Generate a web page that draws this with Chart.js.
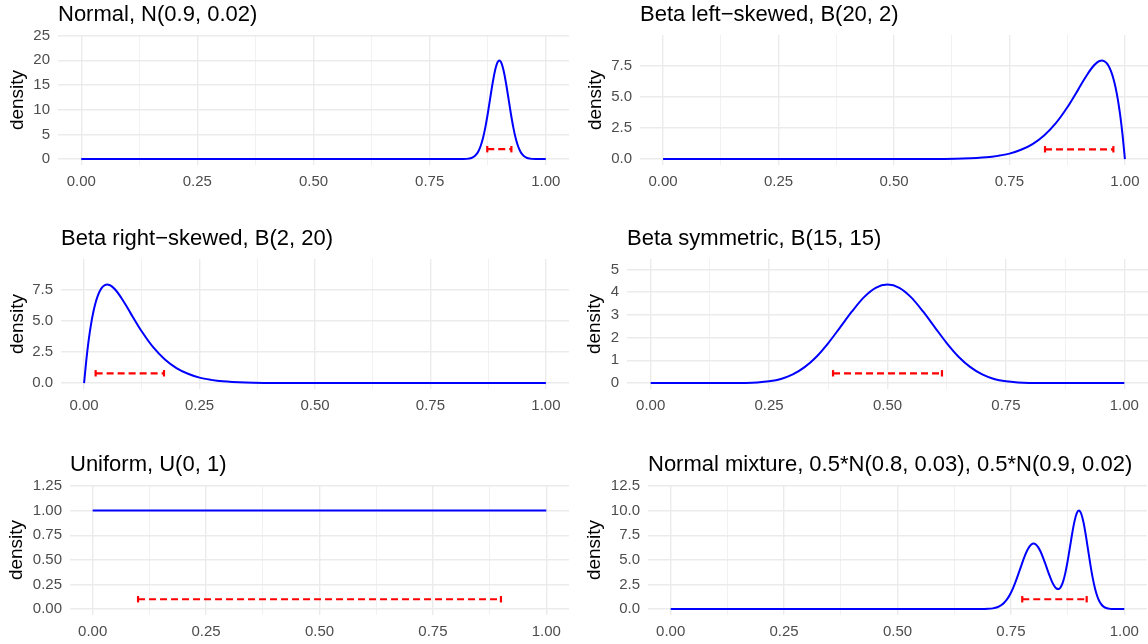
<!DOCTYPE html>
<html>
<head>
<meta charset="utf-8">
<script src="https://cdn.jsdelivr.net/npm/chart.js@4.4.1/dist/chart.umd.min.js"></script>
<style>
  html, body { margin: 0; padding: 0; background: #fff; }
  #page { position: relative; width: 1148px; height: 644px; overflow: hidden; }
  #page canvas { position: absolute; }
</style>
</head>
<body>
<div id="page">
  <canvas id="p1"></canvas>
  <canvas id="p2"></canvas>
  <canvas id="p3"></canvas>
  <canvas id="p4"></canvas>
  <canvas id="p5"></canvas>
  <canvas id="p6"></canvas>
</div>
<script>
// Panel titles
const titles = [
  'Normal, N(0.9, 0.02)',
  'Beta left\u2212skewed, B(20, 2)',
  'Beta right\u2212skewed, B(2, 20)',
  'Beta symmetric, B(15, 15)',
  'Uniform, U(0, 1)',
  'Normal mixture, 0.5*N(0.8, 0.03), 0.5*N(0.9, 0.02)'
];

// Density curves
const normalX = [0, 0.80, 0.82, 0.83, 0.84, 0.845, 0.85, 0.855, 0.86, 0.865, 0.87, 0.875, 0.88, 0.885, 0.89, 0.895, 0.90,
  0.905, 0.91, 0.915, 0.92, 0.925, 0.93, 0.935, 0.94, 0.945, 0.95, 0.955, 0.96, 0.97, 0.98, 1.00];
const normalY = [0, 0, 0.01, 0.04, 0.22, 0.46, 0.88, 1.59, 2.70, 4.31, 6.48, 9.13, 12.10, 15.06, 17.60, 19.33, 19.95,
  19.33, 17.60, 15.06, 12.10, 9.13, 6.48, 4.31, 2.70, 1.59, 0.88, 0.46, 0.22, 0.04, 0.01, 0];

const betaLeftX = [0, 0.50, 0.55, 0.60, 0.65, 0.70, 0.725, 0.75, 0.775, 0.80, 0.825, 0.85, 0.875, 0.90, 0.91, 0.92, 0.93,
  0.94, 0.945, 0.95, 0.955, 0.96, 0.965, 0.97, 0.975, 0.98, 0.985, 0.99, 0.995, 1.00];
const betaLeftY = [0, 0.0004, 0.002, 0.01, 0.04, 0.14, 0.26, 0.44, 0.75, 1.21, 1.90, 2.87, 4.15, 5.67, 6.30, 6.89, 7.41,
  7.78, 7.89, 7.93, 7.88, 7.74, 7.47, 7.06, 6.49, 5.72, 4.73, 3.47, 1.91, 0];

const betaRightX = [0, 0.005, 0.01, 0.015, 0.02, 0.025, 0.03, 0.035, 0.04, 0.045, 0.05, 0.055, 0.06, 0.07, 0.08, 0.09,
  0.10, 0.125, 0.15, 0.175, 0.20, 0.225, 0.25, 0.275, 0.30, 0.35, 0.40, 0.45, 0.50, 1.00];
const betaRightY = [0, 1.91, 3.47, 4.73, 5.72, 6.49, 7.06, 7.47, 7.74, 7.88, 7.93, 7.89, 7.78, 7.41, 6.89, 6.30,
  5.67, 4.15, 2.87, 1.90, 1.21, 0.75, 0.44, 0.26, 0.14, 0.04, 0.01, 0.002, 0.0004, 0];

const betaSymX = [0, 0.10, 0.15, 0.20, 0.225, 0.25, 0.275, 0.30, 0.325, 0.35, 0.375, 0.40, 0.425, 0.45, 0.475, 0.50,
  0.525, 0.55, 0.575, 0.60, 0.625, 0.65, 0.675, 0.70, 0.725, 0.75, 0.775, 0.80, 0.85, 0.90, 1.00];
const betaSymY = [0, 0, 0.0004, 0.008, 0.028, 0.077, 0.18, 0.38, 0.70, 1.16, 1.76, 2.45, 3.15, 3.77, 4.19, 4.33,
  4.19, 3.77, 3.15, 2.45, 1.76, 1.16, 0.70, 0.38, 0.18, 0.077, 0.028, 0.008, 0.0004, 0, 0];

const uniformX = [0, 1];
const uniformY = [1, 1];

const mixtureX = [0, 0.65, 0.68, 0.70, 0.71, 0.72, 0.73, 0.735, 0.74, 0.745, 0.75, 0.755, 0.76, 0.765, 0.77, 0.775,
  0.78, 0.785, 0.79, 0.795, 0.80, 0.805, 0.81, 0.815, 0.82, 0.825, 0.83, 0.835, 0.84, 0.845, 0.85, 0.855, 0.86, 0.865,
  0.87, 0.875, 0.88, 0.885, 0.89, 0.895, 0.90, 0.905, 0.91, 0.915, 0.92, 0.925, 0.93, 0.935, 0.94, 0.945, 0.95, 0.955,
  0.96, 0.97, 0.98, 1.00];
const mixtureY = [0, 0, 0.002, 0.026, 0.074, 0.19, 0.44, 0.64, 0.90, 1.24, 1.66, 2.16, 2.73, 3.37, 4.03, 4.70,
  5.32, 5.87, 6.29, 6.56, 6.65, 6.56, 6.29, 5.87, 5.33, 4.71, 4.06, 3.42, 2.84, 2.39, 2.10, 2.03, 2.25, 2.79,
  3.68, 4.86, 6.24, 7.65, 8.88, 9.71, 10.00, 9.68, 8.81, 7.53, 6.05, 4.57, 3.24, 2.16, 1.35, 0.79, 0.44, 0.23,
  0.11, 0.02, 0, 0];

// 80% intervals (red dashed bars) and the height they sit at
const intervalLow = [0.874, 0.827, 0.025, 0.385, 0.10, 0.775];
const intervalHigh = [0.926, 0.975, 0.173, 0.615, 0.90, 0.917];
const intervalHeight = [2.0, 0.79, 0.79, 0.43, 0.10, 1.0];

// Axis ticks
const xTicks = [0, 0.25, 0.5, 0.75, 1];
const xTickLabels = ['0.00', '0.25', '0.50', '0.75', '1.00'];
const yTicksA = [0, 5, 10, 15, 20, 25];
const yLabelsA = ['0', '5', '10', '15', '20', '25'];
const yTicksB = [0, 2.5, 5, 7.5];
const yLabelsB = ['0.0', '2.5', '5.0', '7.5'];
const yTicksC = [0, 1, 2, 3, 4, 5];
const yLabelsC = ['0', '1', '2', '3', '4', '5'];
const yTicksD = [0, 0.25, 0.5, 0.75, 1, 1.25];
const yLabelsD = ['0.00', '0.25', '0.50', '0.75', '1.00', '1.25'];
const yTicksE = [0, 2.5, 5, 7.5, 10, 12.5];
const yLabelsE = ['0.0', '2.5', '5.0', '7.5', '10.0', '12.5'];

// y range of each panel (ggplot expanded limits)
const yLimits = [[-1.2, 25.13], [-0.475, 9.985], [-0.475, 9.985], [-0.26, 5.456], [-0.06, 1.26], [-0.6, 12.6]];

const FONT = "'Liberation Sans', Arial, Helvetica, sans-serif";

// canvas placement of each panel: left, top, width, y-axis width
const layoutBoxes = [
  [6, 0, 563, 52], [584, 0, 564, 56],
  [6, 224, 563, 55], [583, 224, 565, 44],
  [5, 450, 564, 65], [583, 450, 564, 65]
];
const CANVAS_H = 195;

// majors plus the half-way minor lines that fall inside the range
function withMinor(majors, lo, hi) {
  const step = majors[1] - majors[0];
  const out = majors.slice();
  majors.forEach(v => {
    [v - step / 2, v + step / 2].forEach(m => {
      if (m >= lo && m <= hi && !out.some(o => Math.abs(o - m) < 1e-9)) out.push(m);
    });
  });
  return out.sort((a, b) => a - b);
}

function lookup(ticks, labels, v) {
  const k = ticks.findIndex(t => Math.abs(t - v) < 1e-9);
  return k >= 0 ? labels[k] : '';
}

function isMajor(ticks, v) {
  return ticks.some(t => Math.abs(t - v) < 1e-9);
}

function makePanel(i, curveX, curveY, yTicks, yLabels) {
  const [left, top, width, yW] = layoutBoxes[i];
  const canvas = document.getElementById('p' + (i + 1));
  canvas.width = width;
  canvas.height = CANVAS_H;
  canvas.style.left = left + 'px';
  canvas.style.top = top + 'px';

  const curve = curveX.map((x, k) => ({ x: x, y: curveY[k] }));
  const interval = [
    { x: intervalLow[i], y: intervalHeight[i] },
    { x: intervalHigh[i], y: intervalHeight[i] }
  ];
  const [yMin, yMax] = yLimits[i];

  new Chart(canvas, {
    type: 'line',
    data: {
      datasets: [
        {
          data: curve,
          borderColor: '#0000FF',
          borderWidth: 2,
          pointRadius: 0,
          cubicInterpolationMode: 'monotone',
          fill: false
        },
        {
          data: interval,
          borderColor: '#FF0000',
          borderWidth: 2.2,
          borderDash: [7, 4],
          pointStyle: 'line',
          pointRotation: 90,
          pointRadius: 3.2,
          pointHoverRadius: 3.2,
          pointBorderColor: '#FF0000',
          pointBorderWidth: 2.2,
          fill: false
        }
      ]
    },
    options: {
      responsive: false,
      animation: false,
      events: [],
      layout: { padding: 0, autoPadding: false },
      plugins: {
        legend: { display: false },
        tooltip: { enabled: false },
        title: {
          display: true,
          text: titles[i],
          align: 'start',
          fullSize: false,
          color: '#000000',
          font: { family: FONT, size: 22, weight: 'normal' },
          padding: { top: 1.5, bottom: 7.1 }
        }
      },
      scales: {
        x: {
          type: 'linear',
          min: -0.05,
          max: 1.05,
          afterBuildTicks: s => { s.ticks = withMinor(xTicks, -0.05, 1.05).map(v => ({ value: v })); },
          afterFit: s => { s.height = 30; s.paddingLeft = 0; s.paddingRight = 0; },
          ticks: {
            autoSkip: false,
            maxRotation: 0,
            padding: 8,
            color: '#4D4D4D',
            font: { family: FONT, size: 15 },
            callback: v => lookup(xTicks, xTickLabels, v)
          },
          grid: {
            color: '#EBEBEB',
            drawTicks: false,
            lineWidth: ctx => (ctx.tick && isMajor(xTicks, ctx.tick.value)) ? 1.4 : 0.7
          },
          border: { display: false }
        },
        y: {
          type: 'linear',
          min: yMin,
          max: yMax,
          afterBuildTicks: s => { s.ticks = withMinor(yTicks, yMin, yMax).map(v => ({ value: v })); },
          afterFit: s => { s.width = yW; s.paddingTop = 0; s.paddingBottom = 0; },
          ticks: {
            padding: 8,
            color: '#4D4D4D',
            font: { family: FONT, size: 15 },
            callback: v => lookup(yTicks, yLabels, v)
          },
          grid: {
            color: '#EBEBEB',
            drawTicks: false,
            lineWidth: ctx => (ctx.tick && isMajor(yTicks, ctx.tick.value)) ? 1.4 : 0.7
          },
          border: { display: false },
          title: {
            display: true,
            text: 'density',
            color: '#000000',
            font: { family: FONT, size: 19 },
            padding: 0
          }
        }
      }
    }
  });
}

makePanel(0, normalX, normalY, yTicksA, yLabelsA);
makePanel(1, betaLeftX, betaLeftY, yTicksB, yLabelsB);
makePanel(2, betaRightX, betaRightY, yTicksB, yLabelsB);
makePanel(3, betaSymX, betaSymY, yTicksC, yLabelsC);
makePanel(4, uniformX, uniformY, yTicksD, yLabelsD);
makePanel(5, mixtureX, mixtureY, yTicksE, yLabelsE);
</script>
</body>
</html>
